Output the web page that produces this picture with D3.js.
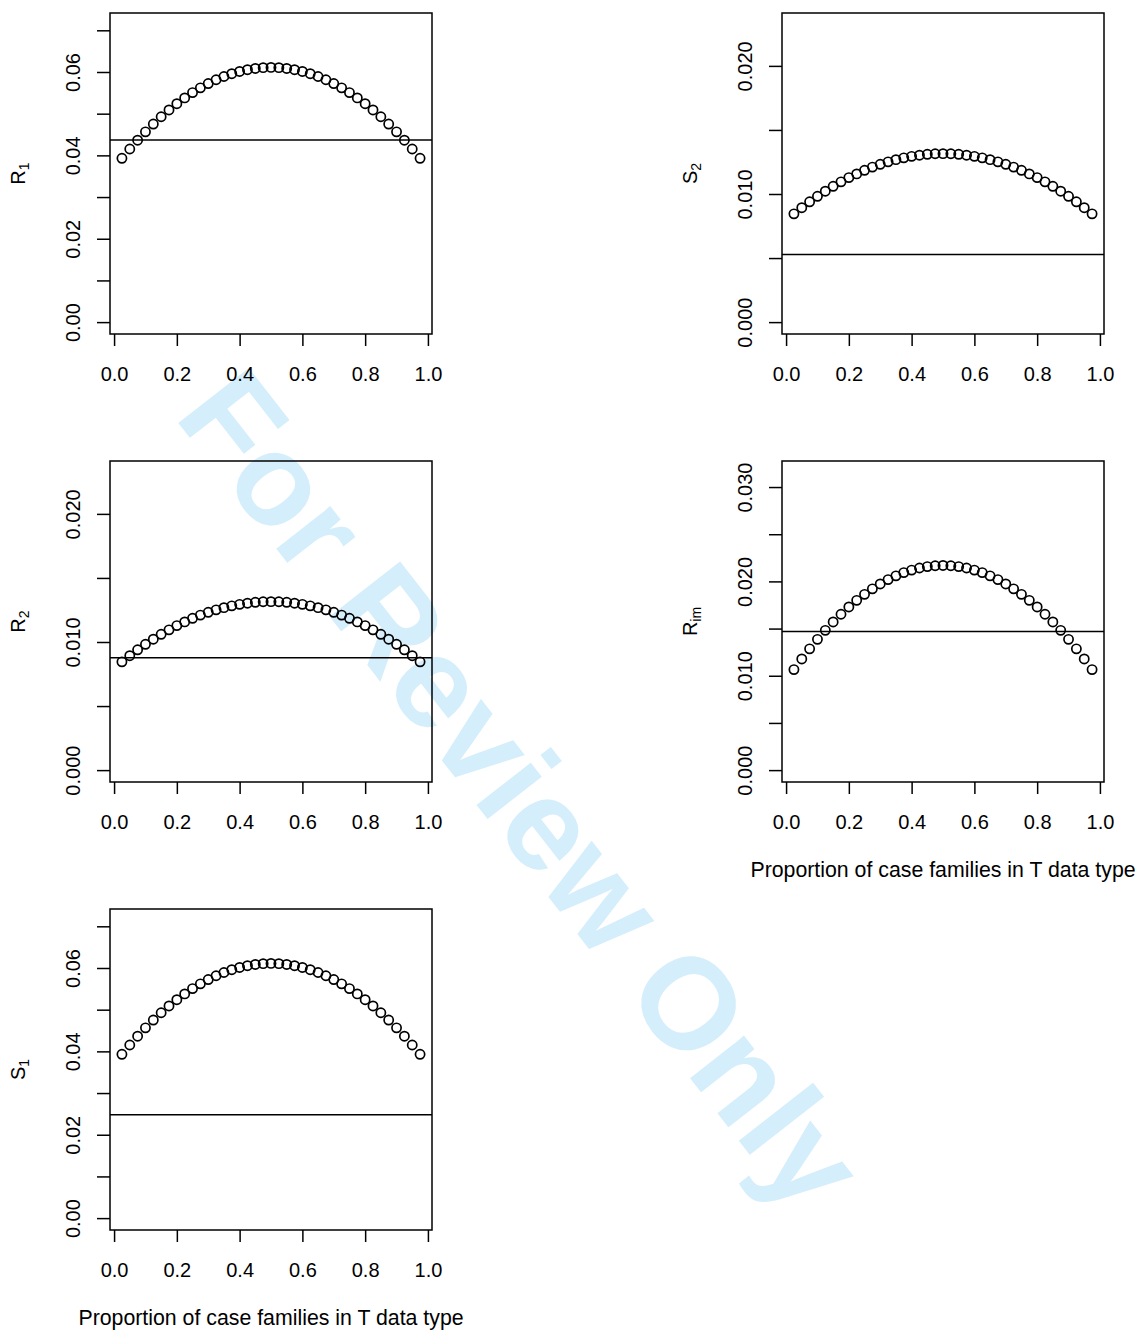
<!DOCTYPE html>
<html>
<head>
<meta charset="utf-8">
<script src="https://cdn.jsdelivr.net/npm/d3@7"></script>
<style>
  body { margin: 0; background: #fff; }
  svg { display: block; font-family: "Liberation Sans", Arial, sans-serif; }
</style>
</head>
<body>
<svg id="chart" width="1139" height="1331"></svg>
<script>
// proportion of case families in T data type
const proportion = [0.025, 0.05, 0.075, 0.1, 0.125, 0.15, 0.175, 0.2, 0.225, 0.25,
  0.275, 0.3, 0.325, 0.35, 0.375, 0.4, 0.425, 0.45, 0.475, 0.5,
  0.525, 0.55, 0.575, 0.6, 0.625, 0.65, 0.675, 0.7, 0.725, 0.75,
  0.775, 0.8, 0.825, 0.85, 0.875, 0.9, 0.925, 0.95, 0.975];

const r1 = [0.03930, 0.04153, 0.04364, 0.04564, 0.04751, 0.04926, 0.05089, 0.05240, 0.05379, 0.05506,
  0.05620, 0.05723, 0.05814, 0.05892, 0.05959, 0.06013, 0.06055, 0.06085, 0.06104, 0.06110,
  0.06104, 0.06085, 0.06055, 0.06013, 0.05959, 0.05892, 0.05814, 0.05723, 0.05620, 0.05506,
  0.05379, 0.05240, 0.05089, 0.04926, 0.04751, 0.04564, 0.04364, 0.04153, 0.03930];

const s1 = [0.03930, 0.04153, 0.04364, 0.04564, 0.04751, 0.04926, 0.05089, 0.05240, 0.05379, 0.05506,
  0.05620, 0.05723, 0.05814, 0.05892, 0.05959, 0.06013, 0.06055, 0.06085, 0.06104, 0.06110,
  0.06104, 0.06085, 0.06055, 0.06013, 0.05959, 0.05892, 0.05814, 0.05723, 0.05620, 0.05506,
  0.05379, 0.05240, 0.05089, 0.04926, 0.04751, 0.04564, 0.04364, 0.04153, 0.03930];

const r2 = [0.00845, 0.00893, 0.00939, 0.00982, 0.01022, 0.01060, 0.01095, 0.01128, 0.01157, 0.01185,
  0.01210, 0.01232, 0.01251, 0.01268, 0.01282, 0.01294, 0.01303, 0.01310, 0.01314, 0.01315,
  0.01314, 0.01310, 0.01303, 0.01294, 0.01282, 0.01268, 0.01251, 0.01232, 0.01210, 0.01185,
  0.01157, 0.01128, 0.01095, 0.01060, 0.01022, 0.00982, 0.00939, 0.00893, 0.00845];

const s2 = [0.00845, 0.00893, 0.00939, 0.00982, 0.01022, 0.01060, 0.01095, 0.01128, 0.01157, 0.01185,
  0.01210, 0.01232, 0.01251, 0.01268, 0.01282, 0.01294, 0.01303, 0.01310, 0.01314, 0.01315,
  0.01314, 0.01310, 0.01303, 0.01294, 0.01282, 0.01268, 0.01251, 0.01232, 0.01210, 0.01185,
  0.01157, 0.01128, 0.01095, 0.01060, 0.01022, 0.00982, 0.00939, 0.00893, 0.00845];

const rim = [0.01065, 0.01178, 0.01285, 0.01386, 0.01481, 0.01570, 0.01652, 0.01729, 0.01799, 0.01863,
  0.01921, 0.01973, 0.02019, 0.02059, 0.02093, 0.02120, 0.02142, 0.02157, 0.02166, 0.02169,
  0.02166, 0.02157, 0.02142, 0.02120, 0.02093, 0.02059, 0.02019, 0.01973, 0.01921, 0.01863,
  0.01799, 0.01729, 0.01652, 0.01570, 0.01481, 0.01386, 0.01285, 0.01178, 0.01065];

// horizontal reference value per panel
const panelNames = ["R1", "S2", "R2", "Rim", "S1"];
const refLines = [0.0437, 0.00528, 0.00878, 0.01468, 0.0248];
const yMax = [0.0713, 0.0232, 0.0232, 0.0315, 0.0713];

const xTicks = [0, 0.2, 0.4, 0.6, 0.8, 1.0];
const yTicksWide = [0, 0.01, 0.02, 0.03, 0.04, 0.05, 0.06, 0.07];
const yTicksFine = [0, 0.005, 0.01, 0.015, 0.02];
const yTicksIm = [0, 0.005, 0.01, 0.015, 0.02, 0.025, 0.03];

const panels = [
  {name: "R1", main: "R", sub: "1", values: r1, ticks: yTicksWide, step: 0.02, fmt: ".2f", left: 110, top: 13, xlab: false},
  {name: "S2", main: "S", sub: "2", values: s2, ticks: yTicksFine, step: 0.01, fmt: ".3f", left: 782, top: 13, xlab: false},
  {name: "R2", main: "R", sub: "2", values: r2, ticks: yTicksFine, step: 0.01, fmt: ".3f", left: 110, top: 461, xlab: false},
  {name: "Rim", main: "R", sub: "im", values: rim, ticks: yTicksIm, step: 0.01, fmt: ".3f", left: 782, top: 461, xlab: true},
  {name: "S1", main: "S", sub: "1", values: s1, ticks: yTicksWide, step: 0.02, fmt: ".2f", left: 110, top: 909, xlab: true}
];

const W = 322, H = 321, fontSize = 20;
const svg = d3.select("#chart");

// watermark sits behind the plots
svg.append("text")
  .attr("transform", "translate(522,790) rotate(52)")
  .attr("text-anchor", "middle")
  .attr("dominant-baseline", "central")
  .attr("font-weight", "bold")
  .attr("font-size", 130)
  .attr("fill", "#d4eefb")
  .text("For Review Only");

panels.forEach(p => {
  const i = panelNames.indexOf(p.name);
  const g = svg.append("g").attr("transform", `translate(${p.left},${p.top})`);

  // R style 4% axis expansion
  const x = d3.scaleLinear().domain([0.025 - 0.038, 0.975 + 0.038]).range([0, W]);
  const ext = yMax[i] * 0.04;
  const y = d3.scaleLinear().domain([-ext, yMax[i] + ext]).range([H, 0]);

  const fmt = d3.format(p.fmt);
  const labelled = d => Math.abs(Math.round(d / p.step) * p.step - d) < 1e-9;

  const xAxis = g.append("g").attr("transform", `translate(0,${H})`)
    .call(d3.axisBottom(x).tickValues(xTicks).tickSize(12).tickFormat(d3.format(".1f")));
  xAxis.select(".domain").remove();
  xAxis.selectAll("line").attr("stroke", "#000").attr("stroke-width", 1.5);
  xAxis.selectAll("text")
    .attr("y", 47).attr("dy", null)
    .attr("font-size", fontSize).attr("font-family", null).attr("fill", "#000");

  const yAxis = g.append("g")
    .call(d3.axisLeft(y).tickValues(p.ticks).tickSize(13).tickFormat(d => labelled(d) ? fmt(d) : ""));
  yAxis.select(".domain").remove();
  yAxis.selectAll("line").attr("stroke", "#000").attr("stroke-width", 1.5);
  yAxis.selectAll("text")
    .attr("x", null).attr("dy", "0.35em")
    .attr("text-anchor", "middle")
    .attr("transform", "translate(-37,0) rotate(-90)")
    .attr("font-size", fontSize).attr("font-family", null).attr("fill", "#000");

  g.append("rect")
    .attr("width", W).attr("height", H)
    .attr("fill", "none").attr("stroke", "#000").attr("stroke-width", 1.5);

  g.append("line")
    .attr("x1", 0).attr("x2", W)
    .attr("y1", y(refLines[i])).attr("y2", y(refLines[i]))
    .attr("stroke", "#000").attr("stroke-width", 1.5);

  g.selectAll("circle.pt")
    .data(p.values)
    .join("circle")
    .attr("class", "pt")
    .attr("cx", (d, k) => x(proportion[k]))
    .attr("cy", d => y(d))
    .attr("r", 4.6)
    .attr("fill", "none")
    .attr("stroke", "#000")
    .attr("stroke-width", 1.7);

  const lab = g.append("text")
    .attr("transform", `translate(-85,${H / 2}) rotate(-90)`)
    .attr("text-anchor", "middle")
    .attr("font-size", fontSize);
  lab.append("tspan").text(p.main);
  lab.append("tspan").attr("dy", "0.3em").attr("font-size", 14).text(p.sub);

  if (p.xlab) {
    g.append("text")
      .attr("x", W / 2).attr("y", H + 95)
      .attr("text-anchor", "middle")
      .attr("font-size", 21.3)
      .text("Proportion of case families in T data type");
  }
});
</script>
</body>
</html>
